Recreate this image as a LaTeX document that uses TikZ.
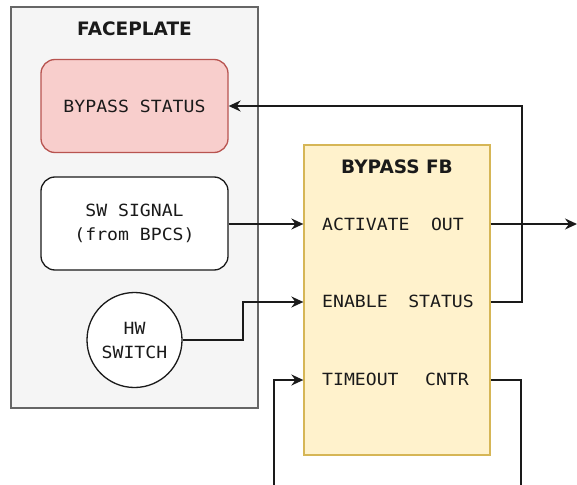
\documentclass[tikz,border=0pt]{standalone}
\usepackage{fontspec}
\usetikzlibrary{arrows.meta}
\newfontfamily\monof[FakeStretch=1.08]{DejaVu Sans Mono}
\newfontfamily\headf{DejaVu Sans}
\definecolor{ink}{HTML}{1A1A1A}
\definecolor{panelfill}{HTML}{F5F5F5}
\definecolor{panelline}{HTML}{666666}
\definecolor{alarmfill}{HTML}{F8CECC}
\definecolor{alarmline}{HTML}{B85450}
\definecolor{fbfill}{HTML}{FFF2CC}
\definecolor{fbline}{HTML}{D6B656}
\tikzset{
  title/.style={font=\headf\bfseries\fontsize{18.5}{22}\selectfont, text=ink, inner sep=0pt},
  label/.style={font=\monof\fontsize{16.8}{24}\selectfont, text=ink, inner sep=0pt, align=center},
  panel/.style={draw=panelline, fill=panelfill, line width=1.3pt, inner sep=0pt},
  card/.style={rounded corners=14pt, line width=1.3pt, inner sep=0pt,
    minimum width=187pt, minimum height=93pt},
  conn/.style={draw=ink, line width=1.7pt},
  arr/.style={conn, -{Stealth[length=12pt,width=11pt,inset=4pt]}},
}
\begin{document}
\begin{tikzpicture}[x=1pt,y=-1pt]
\useasboundingbox (0,0) rectangle (577,484);
\clip (0,0) rectangle (577,484);

% faceplate panel
\node[panel, minimum width=247pt, minimum height=401pt] (face) at (134.5,207.5) {};
\node[title] (facetitle) at (134.5,29) {FACEPLATE};
\node[card, draw=alarmline, fill=alarmfill] (bstatus) at (134.5,106) {};
\node[label] at (bstatus) {BYPASS STATUS};
\node[card, draw=ink, fill=white] (sw) at (134.5,223.5) {};
\node[label] at (sw) {SW SIGNAL\\(from BPCS)};
\node[circle, draw=ink, fill=white, line width=1.3pt, minimum size=95pt, inner sep=0pt] (hw) at (134.5,340) {};
\node[label] at (hw) {HW\\SWITCH};

% function block
\node[draw=fbline, fill=fbfill, line width=1.3pt, minimum width=186pt, minimum height=310pt, inner sep=0pt] (fb) at (397,300) {};
\node[title] (fbtitle) at (397,167) {BYPASS FB};
\node[label, anchor=west] (activate) at (322,224) {ACTIVATE};
\node[label, anchor=east] (out) at (464,224) {OUT};
\node[label, anchor=west] (enable) at (322,301) {ENABLE};
\node[label, anchor=east] (statusport) at (474,301) {STATUS};
\node[label, anchor=west] (timeout) at (322,379) {TIMEOUT};
\node[label, anchor=east] (cntr) at (469,379) {CNTR};
\coordinate (sink) at (577,224);

% connectors
\draw[arr] (sw.east |- activate) -- (fb.west |- activate);
\draw[arr] (hw.east) -- ++(60,0) |- ([yshift=-1pt]fb.west |- enable);
\draw[arr] (fb.east |- out) -- (sink);
\draw[arr] ([yshift=-1pt]fb.east |- statusport) -- ++(31,0) |- (bstatus.east);
\draw[arr] ([yshift=-1pt]fb.east |- cntr) -- ++(30,0) |- (274,500) |- ([yshift=-1pt]fb.west |- timeout);
\end{tikzpicture}
\end{document}
